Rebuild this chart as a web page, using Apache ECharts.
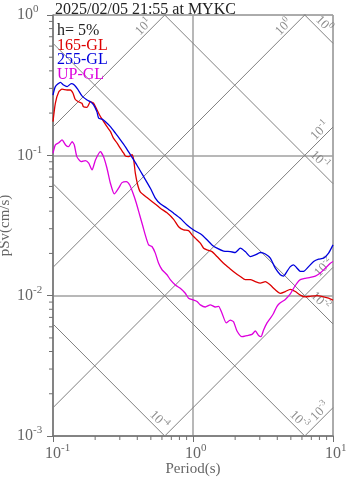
<!DOCTYPE html>
<html>
<head>
<meta charset="utf-8">
<script src="https://cdn.jsdelivr.net/npm/echarts@6/dist/echarts.min.js"></script>
<style>
  html, body { margin: 0; padding: 0; background: #fff; }
  #chart { width: 347px; height: 478px; }
</style>
</head>
<body>
<div id="chart"></div>
<script>
// Tripartite pseudo-velocity response spectrum, h = 5%
const chartTitle = '2025/02/05 21:55 at MYKC';
const dampingText = 'h= 5%';
const seriesNames = ['165-GL', '255-GL', 'UP-GL'];
const seriesColors = ['#dd0000', '#0000dd', '#dd00dd'];

// [period (s), pSv (cm/s)]
const psv165 = [[0.100,0.174],[0.104,0.236],[0.110,0.284],[0.116,0.296],[0.126,0.292],[0.133,0.292],[0.139,0.277],[0.144,0.251],[0.152,0.241],[0.161,0.235],[0.165,0.222],[0.175,0.220],[0.185,0.241],[0.195,0.235],[0.206,0.211],[0.218,0.189],[0.230,0.174],[0.243,0.160],[0.257,0.148],[0.271,0.132],[0.287,0.122],[0.303,0.112],[0.319,0.104],[0.329,0.099],[0.347,0.098],[0.367,0.101],[0.377,0.093],[0.387,0.075],[0.402,0.062],[0.420,0.055],[0.469,0.050],[0.523,0.046],[0.584,0.042],[0.652,0.039],[0.727,0.035],[0.789,0.031],[0.857,0.0294],[0.930,0.0291],[0.984,0.0271],[1.038,0.0257],[1.128,0.0237],[1.191,0.0218],[1.259,0.0212],[1.367,0.0206],[1.484,0.0190],[1.654,0.0170],[1.846,0.0155],[2.005,0.0145],[2.177,0.0137],[2.364,0.0130],[2.567,0.0130],[2.787,0.0126],[3.026,0.0123],[3.285,0.0126],[3.566,0.0119],[3.872,0.0110],[4.204,0.0104],[4.564,0.0107],[4.955,0.0111],[5.380,0.0107],[5.84,0.0101],[6.34,0.0098],[6.88,0.0099],[7.69,0.0100],[8.57,0.0098],[9.30,0.0096],[10.0,0.0093]];
const psv255 = [[0.100,0.269],[0.104,0.309],[0.113,0.331],[0.119,0.317],[0.126,0.309],[0.135,0.324],[0.142,0.317],[0.150,0.296],[0.161,0.265],[0.175,0.248],[0.185,0.241],[0.195,0.229],[0.206,0.204],[0.212,0.184],[0.224,0.181],[0.236,0.174],[0.257,0.160],[0.279,0.144],[0.303,0.129],[0.329,0.115],[0.357,0.101],[0.398,0.085],[0.444,0.0705],[0.496,0.0583],[0.538,0.0495],[0.584,0.0451],[0.652,0.0420],[0.727,0.0387],[0.811,0.0356],[0.906,0.0319],[1.010,0.0294],[1.160,0.0271],[1.259,0.0250],[1.367,0.0230],[1.484,0.0218],[1.654,0.0208],[1.846,0.0206],[2.005,0.0203],[2.177,0.0218],[2.364,0.0206],[2.567,0.0190],[2.787,0.0195],[3.026,0.0203],[3.285,0.0198],[3.566,0.0185],[3.872,0.0157],[4.204,0.0141],[4.437,0.0138],[4.694,0.0149],[4.955,0.0161],[5.232,0.0166],[5.533,0.0157],[5.84,0.0149],[6.166,0.0149],[6.69,0.0161],[7.27,0.0175],[7.89,0.0182],[8.57,0.0185],[9.30,0.0201],[10.0,0.0230]];
const psvUP = [[0.100,0.1035],[0.104,0.1186],[0.110,0.1231],[0.116,0.1287],[0.123,0.1186],[0.129,0.1153],[0.137,0.1252],[0.142,0.1186],[0.148,0.0979],[0.159,0.0902],[0.170,0.0917],[0.180,0.0879],[0.190,0.0787],[0.201,0.0927],[0.218,0.1063],[0.230,0.0974],[0.243,0.0809],[0.257,0.0633],[0.274,0.0531],[0.294,0.0583],[0.311,0.0639],[0.334,0.0650],[0.353,0.0615],[0.373,0.0537],[0.394,0.0456],[0.416,0.0376],[0.439,0.0311],[0.456,0.0271],[0.482,0.0230],[0.509,0.0224],[0.538,0.0201],[0.568,0.0170],[0.601,0.0153],[0.652,0.0141],[0.688,0.0130],[0.748,0.0119],[0.811,0.0113],[0.881,0.0104],[0.930,0.0096],[1.010,0.0093],[1.068,0.0091],[1.128,0.0086],[1.224,0.0083],[1.329,0.0086],[1.443,0.0083],[1.524,0.0084],[1.611,0.0075],[1.728,0.0064],[1.846,0.0067],[1.950,0.0065],[2.062,0.0056],[2.239,0.0051],[2.431,0.0052],[2.639,0.0053],[2.787,0.0056],[2.941,0.0052],[3.060,0.0051],[3.194,0.0057],[3.379,0.0064],[3.566,0.0069],[3.765,0.0075],[3.981,0.0084],[4.204,0.0089],[4.564,0.0094],[4.955,0.0103],[5.232,0.0113],[5.533,0.0123],[5.84,0.0130],[6.34,0.0133],[6.88,0.0135],[7.48,0.0138],[8.11,0.0145],[8.81,0.0157],[9.57,0.0170],[10.0,0.0175]];

// axis ranges and minor ticks
const periodRange = [0.1, 10];
const psvRange = [0.001, 1];
const minorFactors = [2, 3, 4, 5, 6, 7, 8, 9];

// tripartite guide levels: pseudo-acceleration (cm/s^2) and displacement (cm)
const accelLevels = [10, 1, 0.1, 0.01, 0.001];
const accelLabelPeriods = [0.445, 4.45, 8.1, 8.6, 8.1];
const dispLevels = [1, 0.1, 0.01, 0.001, 0.0001];
const dispLabelPeriods = [8.6, 8.0, 8.1, 5.7, 0.57];

const serif = "'Liberation Serif', 'DejaVu Serif', serif";
const TWO_PI = 2 * Math.PI;
const expOf = v => Math.round(Math.log10(v));

const psvFromAccel = (a, t) => a * t / TWO_PI;
const psvFromDisp = (d, t) => TWO_PI * d / t;

// px per decade on the value axis, used to lift guide labels off their line
const pxPerDecade = 421 / 3;
const lift = px => Math.pow(10, px / pxPerDecade);

const guideSeries = [];
accelLevels.forEach(a => {
  guideSeries.push({
    type: 'line', silent: true, symbol: 'none', clip: true,
    lineStyle: { color: '#808080', width: 1 },
    data: periodRange.map(t => [t, psvFromAccel(a, t)]),
    z: 1
  });
});
dispLevels.forEach(d => {
  guideSeries.push({
    type: 'line', silent: true, symbol: 'none', clip: true,
    lineStyle: { color: '#808080', width: 1 },
    data: periodRange.map(t => [t, psvFromDisp(d, t)]),
    z: 1
  });
});

const guideRich = {
  b: { fontFamily: serif, fontSize: 13, color: '#707070', lineHeight: 18 },
  s: { fontFamily: serif, fontSize: 9, color: '#707070', lineHeight: 10, verticalAlign: 'top' }
};
const guideLabel = (rot) => ({
  show: true, position: 'inside', rotate: rot,
  formatter: p => '{b|10}{s|' + expOf(p.data.level) + '}',
  rich: guideRich
});
guideSeries.push({
  type: 'scatter', silent: true, symbolSize: 0,
  data: accelLevels.map((a, i) => {
    const t = accelLabelPeriods[i];
    return { value: [t, psvFromAccel(a, t) * lift(9)], level: a };
  }),
  label: guideLabel(45), z: 3
});
guideSeries.push({
  type: 'scatter', silent: true, symbolSize: 0,
  data: dispLevels.map((d, i) => {
    const t = dispLabelPeriods[i];
    return { value: [t, psvFromDisp(d, t) * lift(10)], level: d };
  }),
  label: guideLabel(-45), z: 3
});

// minor ticks at 2..9 x 10^n drawn outside the plot frame
const minorX = [], minorY = [];
for (let e = -1; e < 1; e++) minorFactors.forEach(f => minorX.push([f * Math.pow(10, e), psvRange[0]]));
for (let e = -3; e < 0; e++) minorFactors.forEach(f => minorY.push([periodRange[0], f * Math.pow(10, e)]));
const tickStyle = { stroke: '#707070', lineWidth: 1 };
const minorTickSeries = [
  {
    type: 'custom', silent: true, clip: false, data: minorX,
    renderItem: (params, api) => {
      const p = api.coord([api.value(0), api.value(1)]);
      return { type: 'line', shape: { x1: p[0], y1: p[1], x2: p[0], y2: p[1] + 4 }, style: tickStyle };
    }
  },
  {
    type: 'custom', silent: true, clip: false, data: minorY,
    renderItem: (params, api) => {
      const p = api.coord([api.value(0), api.value(1)]);
      return { type: 'line', shape: { x1: p[0] - 4, y1: p[1], x2: p[0], y2: p[1] }, style: tickStyle };
    }
  }
];

const spectra = [psv165, psv255, psvUP];
const spectrumSeries = spectra.map((d, i) => ({
  name: seriesNames[i], type: 'line', data: d, symbol: 'none', smooth: 0.2,
  lineStyle: { color: seriesColors[i], width: 1.3 }, z: 5
}));

const axisRich = {
  h: { fontFamily: serif, fontSize: 11, color: 'transparent', lineHeight: 12, verticalAlign: 'top' },
  b: { fontFamily: serif, fontSize: 16, color: '#666', lineHeight: 22 },
  s: { fontFamily: serif, fontSize: 11, color: '#666', lineHeight: 12, verticalAlign: 'top' }
};

const legendLines = [dampingText].concat(seriesNames);
const legendColors = ['#222'].concat(seriesColors);
const legendGraphics = legendLines.map((txt, i) => ({
  type: 'text', left: 57, top: 23 + i * 14.5,
  style: { text: txt, fill: legendColors[i], font: '16px ' + serif },
  z: 10
}));

const chart = echarts.init(document.getElementById('chart'), null, { renderer: 'canvas' });
chart.setOption({
  animation: false,
  backgroundColor: '#fff',
  title: {
    text: chartTitle, left: 50, top: -3,
    textStyle: { fontFamily: serif, fontSize: 16, fontWeight: 'normal', color: '#222' }
  },
  grid: {
    left: 53, right: 14, top: 15, bottom: 42,
    containLabel: false, outerBoundsMode: 'none',
    show: true, borderColor: '#9a9a9a', borderWidth: 1
  },
  xAxis: {
    type: 'log', logBase: 10, min: periodRange[0], max: periodRange[1],
    name: 'Period(s)', nameLocation: 'middle', nameGap: 26, nameMoveOverlap: false,
    nameTextStyle: { fontFamily: serif, fontSize: 15, color: '#666' },
    axisLine: { show: true, lineStyle: { color: '#777', width: 1.5 } },
    axisTick: { show: true, length: 6, lineStyle: { color: '#707070' } },
    minorTick: { show: false },
    splitLine: { show: true, lineStyle: { color: '#a0a0a0', width: 1.5 } },
    axisLabel: {
      margin: 7,
      formatter: v => { const e = expOf(v); return '{h|' + e + '}{b|10}{s|' + e + '}'; },
      rich: axisRich
    }
  },
  yAxis: {
    type: 'log', logBase: 10, min: psvRange[0], max: psvRange[1],
    name: 'pSv(cm/s)', nameLocation: 'middle', nameGap: 40, nameRotate: 90, nameMoveOverlap: false,
    nameTextStyle: { fontFamily: serif, fontSize: 15, color: '#666' },
    axisLine: { show: true, lineStyle: { color: '#777', width: 1.5 } },
    axisTick: { show: true, length: 6, lineStyle: { color: '#707070' } },
    minorTick: { show: false },
    splitLine: { show: true, lineStyle: { color: '#a0a0a0', width: 1.5 } },
    axisLabel: {
      margin: 36, align: 'left',
      formatter: v => '{b|10}{s|' + expOf(v) + '}',
      rich: axisRich
    }
  },
  graphic: legendGraphics,
  series: guideSeries.concat(minorTickSeries, spectrumSeries)
});
</script>
</body>
</html>
